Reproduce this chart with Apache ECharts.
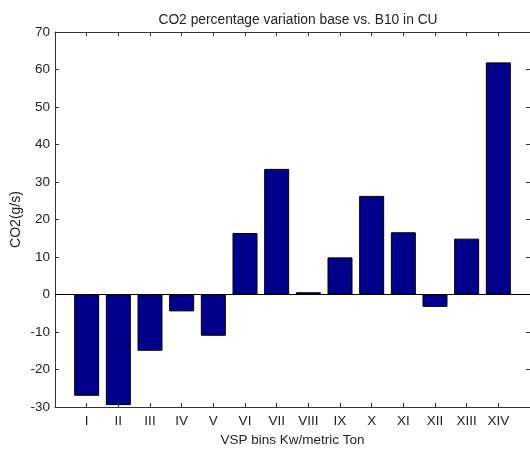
<!DOCTYPE html>
<html>
<head>
<meta charset="utf-8">
<script src="https://cdn.jsdelivr.net/npm/echarts@6/dist/echarts.min.js"></script>
<style>html,body{margin:0;padding:0;background:#fff;}#c{width:530px;height:449px;}</style>
</head>
<body>
<div id="c"></div>
<script>
const categories = ['I','II','III','IV','V','VI','VII','VIII','IX','X','XI','XII','XIII','XIV'];
const values = [-27, -29.5, -15, -4.5, -11, 16.4, 33.5, 0.6, 9.9, 26.3, 16.6, -3.3, 14.9, 61.9];
const yTicks = [-30, -20, -10, 0, 10, 20, 30, 40, 50, 60, 70];

const font = 'Liberation Sans, Arial, sans-serif';
const textColor = '#222';
const chart = echarts.init(document.getElementById('c'));
const barData = values.map((v, i) => [i + 1, v]);

chart.setOption({
  animation: false,
  backgroundColor: '#fff',
  title: {
    text: 'CO2 percentage variation base vs. B10 in CU',
    left: 293, top: 8, textAlign: 'center',
    textStyle: { fontFamily: font, fontSize: 13.8, fontWeight: 'normal', color: textColor }
  },
  grid: { left: 55, right: 0, top: 32, bottom: 42, outerBoundsMode: 'none', containLabel: false },
  xAxis: [{
    type: 'value', min: 0, max: 15, interval: 1,
    name: 'VSP bins Kw/metric Ton', nameLocation: 'middle', nameGap: 25,
    nameTextStyle: { fontFamily: font, fontSize: 13.5, color: textColor },
    axisLine: { onZero: false, lineStyle: { color: '#333', width: 1 } },
    axisTick: { inside: true, length: 4, lineStyle: { color: '#333' } },
    axisLabel: {
      fontFamily: font, fontSize: 13.5, color: textColor, margin: 7,
      showMinLabel: true, showMaxLabel: true,
      formatter: v => (v >= 1 && v <= categories.length) ? categories[v - 1] : ''
    },
    splitLine: { show: false }
  }, {
    type: 'value', min: 0, max: 15, interval: 1, position: 'top',
    axisLine: { onZero: false, lineStyle: { color: '#333', width: 1 } },
    axisTick: { inside: true, length: 4, lineStyle: { color: '#333' } },
    axisLabel: { show: false }, splitLine: { show: false }
  }],
  yAxis: [{
    type: 'value', min: yTicks[0], max: yTicks[yTicks.length - 1], interval: 10,
    name: 'CO2(g/s)', nameLocation: 'middle', nameGap: 32, nameRotate: 90, nameMoveOverlap: false,
    nameTextStyle: { fontFamily: font, fontSize: 14, color: textColor },
    axisLine: { show: true, onZero: false, lineStyle: { color: '#333', width: 1 } },
    axisTick: { show: true, inside: true, length: 4, lineStyle: { color: '#333' } },
    axisLabel: { fontFamily: font, fontSize: 13.5, color: textColor, margin: 5 },
    splitLine: { show: false }
  }, {
    type: 'value', min: yTicks[0], max: yTicks[yTicks.length - 1], interval: 10, position: 'right',
    axisLine: { show: true, onZero: false, lineStyle: { color: '#333', width: 1 } },
    axisTick: { show: true, inside: true, length: 4, lineStyle: { color: '#333' } },
    axisLabel: { show: false }, splitLine: { show: false }
  }],
  series: [{
    type: 'bar',
    data: barData,
    barWidth: 25,
    itemStyle: { color: '#00008B', borderColor: '#000', borderWidth: 1 }
  }, {
    type: 'line',
    data: [[0, 0], [15, 0]],
    symbol: 'none', silent: true,
    lineStyle: { color: '#000', width: 1 }, z: 1
  }]
});
</script>
</body>
</html>
